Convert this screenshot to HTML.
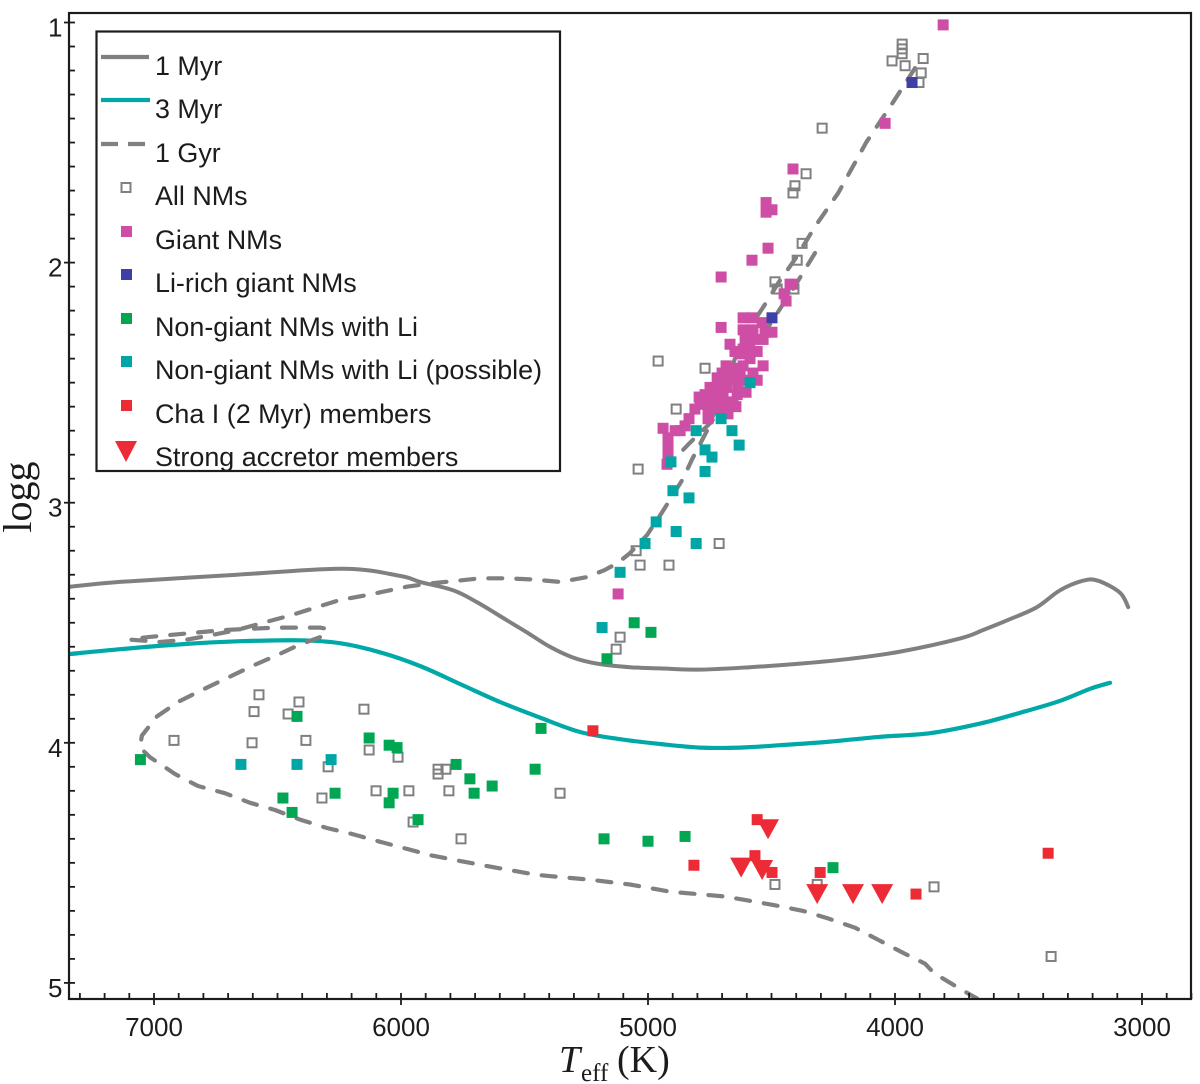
<!DOCTYPE html>
<html>
<head>
<meta charset="utf-8">
<title>logg vs Teff</title>
<style>
html,body{margin:0;padding:0;background:#fff;}
svg{display:block;}
text{font-family:"Liberation Sans",sans-serif;fill:#1c1c1c;}
.serif{font-family:"Liberation Serif",serif;}
.leg{font-size:26.9px;}
</style>
</head>
<body>
<svg id="chart" xmlns="http://www.w3.org/2000/svg" width="1200" height="1084" viewBox="0 0 1200 1084">
  <rect x="0" y="0" width="1200" height="1084" fill="#fff"/>
  <defs><clipPath id="plotClip"><rect x="70" y="14" width="1120" height="984"/></clipPath></defs>
  <g id="series" clip-path="url(#plotClip)"></g>
  <rect x="69" y="13" width="1122" height="986" fill="none" stroke="#1c1c1c" stroke-width="2.2"/>
  <g id="ticks"></g>
  <text class="serif" font-size="40" text-anchor="middle" transform="translate(31,497) rotate(-90)">logg</text>
  <g>
    <text class="serif" font-size="38" font-style="italic" x="559" y="1072">T</text>
    <text class="serif" font-size="25" x="581" y="1081">eff</text>
    <text class="serif" font-size="38" x="617" y="1072">(K)</text>
  </g>
  <g>
    <rect x="96.5" y="31.5" width="463.5" height="439.5" fill="#fff" stroke="#1c1c1c" stroke-width="2.2"/>
    <line x1="101" y1="57" x2="149" y2="57" stroke="#808080" stroke-width="4.2"/>
    <text class="leg" x="155" y="75">1 Myr</text>
    <line x1="101" y1="100" x2="150" y2="100" stroke="#00a9a8" stroke-width="4.2"/>
    <text class="leg" x="155" y="118">3 Myr</text>
    <line x1="101" y1="144" x2="146" y2="144" stroke="#808080" stroke-width="4.2" stroke-dasharray="17,10"/>
    <text class="leg" x="155" y="162">1 Gyr</text>
    <rect x="121.5" y="183" width="9" height="9" fill="#fff" stroke="#808080" stroke-width="2"/>
    <text class="leg" x="155" y="205">All NMs</text>
    <rect x="121" y="226" width="11" height="11" fill="#cd4ea4"/>
    <text class="leg" x="155" y="249">Giant NMs</text>
    <rect x="121" y="269" width="11" height="11" fill="#3f3fa8"/>
    <text class="leg" x="155" y="292">Li-rich giant NMs</text>
    <rect x="121" y="313" width="11" height="11" fill="#00a651"/>
    <text class="leg" x="155" y="336">Non-giant NMs with Li</text>
    <rect x="121" y="356" width="11" height="11" fill="#00a6a6"/>
    <text class="leg" x="155" y="379">Non-giant NMs with Li (possible)</text>
    <rect x="121" y="400" width="11" height="11" fill="#ed2b36"/>
    <text class="leg" x="155" y="423">Cha I (2 Myr) members</text>
    <polygon points="115,441 137,441 126,462" fill="#ed2b36"/>
    <text class="leg" x="155" y="466">Strong accretor members</text>
  </g>
</svg>
<script>
// Axis tick labels
const xTickLabels = [7000, 6000, 5000, 4000, 3000];
const yTickLabels = [1, 2, 3, 4, 5];

// Isochrones: effective temperature (K) and logg
const myr1T = [7340,7138,6664,6235,6004,5923,5789,5692,5571,5490,5397,5303,5206,5073,4951,4789,4587,4384,4182,3979,3736,3643,3534,3425,3332,3239,3178,3089,3056];
const myr1G = [3.35,3.33,3.30,3.275,3.305,3.33,3.365,3.415,3.49,3.54,3.60,3.645,3.67,3.685,3.69,3.695,3.685,3.67,3.65,3.62,3.565,3.53,3.485,3.435,3.365,3.325,3.325,3.375,3.435];
const myr3T = [7340,7138,6895,6652,6409,6247,6085,5923,5761,5599,5437,5275,5113,4951,4789,4627,4465,4263,4060,3858,3656,3494,3331,3210,3129];
const myr3G = [3.63,3.61,3.59,3.577,3.573,3.585,3.623,3.68,3.755,3.83,3.895,3.955,3.985,4.005,4.02,4.02,4.01,3.995,3.975,3.96,3.92,3.875,3.825,3.775,3.75];
const gyr1T = [3919,4000,4117,4230,4324,4401,4473,4514,4619,4688,4761,4822,4858,4943,5004,5073,5121,5174,5247,5356,5465,5571,5680,5789,5870,5976,6138,6247,6340,6449,6559,6664,6761,6866,6976,7097,7028,6927,6822,6713,6611,6502,6389,6328,6300,6328,6409,6502,6603,6704,6806,6903,6988,7049,7057,7016,6915,6822,6713,6611,6510,6409,6300,6198,6093,5984,5874,5773,5668,5559,5449,5344,5235,5073,4911,4688,4494,4372,4275,4162,4069,3967,3878,3846,3809,3736,3668];
const gyr1G = [1.19,1.32,1.50,1.71,1.85,1.98,2.085,2.155,2.32,2.51,2.70,2.82,2.90,3.04,3.135,3.21,3.25,3.28,3.31,3.33,3.32,3.315,3.315,3.327,3.335,3.35,3.385,3.405,3.435,3.47,3.50,3.53,3.55,3.57,3.58,3.57,3.56,3.55,3.54,3.53,3.525,3.52,3.52,3.52,3.525,3.56,3.59,3.635,3.68,3.73,3.78,3.83,3.89,3.97,4.02,4.06,4.13,4.18,4.21,4.25,4.28,4.32,4.355,4.38,4.41,4.44,4.47,4.49,4.51,4.53,4.55,4.56,4.57,4.59,4.62,4.64,4.675,4.70,4.73,4.77,4.82,4.875,4.92,4.955,4.98,5.025,5.065];
const gyrBranchT = [4324,4401,4514,4640,4740,4830,4905];
const gyrBranchG = [1.96,2.09,2.27,2.46,2.66,2.75,2.83];

// Star samples: effective temperature (K) and logg
const allNmT = [3971,3971,3971,4012,3959,3886,3894,3903,4295,4360,4405,4413,4376,4396,4486,4477,4409,4959,4769,4886,5040,5048,4712,5032,4915,5113,5129,6575,6413,6595,6457,6150,6919,6603,6385,6129,6012,6295,6320,6101,5850,5818,5850,5968,5806,5356,5951,5757,4486,4315,3842,3368];
const allNmG = [1.09,1.11,1.13,1.16,1.18,1.15,1.21,1.25,1.44,1.63,1.68,1.71,1.92,1.99,2.08,2.11,2.11,2.41,2.44,2.61,2.86,3.20,3.17,3.26,3.26,3.56,3.61,3.80,3.83,3.87,3.88,3.86,3.99,4.00,3.99,4.03,4.06,4.10,4.23,4.20,4.11,4.11,4.13,4.20,4.20,4.21,4.33,4.40,4.59,4.59,4.60,4.89];
const giantT = [3805,4040,4413,4522,4522,4498,4514,4579,4425,4449,4704,4704,5121,4441,4417,4615,4579,4538,4615,4575,4498,4534,4575,4668,4615,4558,4627,4587,4684,4615,4534,4639,4575,4720,4660,4558,4627,4749,4680,4603,4793,4737,4696,4639,4789,4737,4656,4676,4708,4834,4757,4870,4939,4919,4919,4919,4923,4712,4761,4700,4648,4607,4676,4635,4700,4769,4728,4688,4627,4595,4757,4810,4644,4591,4526,4890,4850];
const giantG = [1.01,1.42,1.61,1.75,1.79,1.78,1.94,1.99,2.09,2.13,2.06,2.27,3.38,2.16,2.09,2.23,2.23,2.25,2.28,2.28,2.29,2.32,2.32,2.34,2.36,2.37,2.38,2.40,2.43,2.43,2.43,2.44,2.46,2.48,2.46,2.49,2.49,2.52,2.52,2.54,2.56,2.55,2.56,2.55,2.59,2.59,2.58,2.63,2.61,2.65,2.65,2.70,2.69,2.73,2.77,2.81,2.84,2.58,2.58,2.46,2.37,2.32,2.48,2.51,2.51,2.55,2.52,2.59,2.46,2.49,2.61,2.61,2.60,2.36,2.29,2.70,2.68];
const liRichT = [3931,4498];
const liRichG = [1.25,2.23];
const nonGiantT = [7055,6421,6129,6048,6016,6478,6267,6441,6032,6048,5777,5721,5704,5631,5457,5433,5931,5178,5056,4988,5166,5000,4850,4251];
const nonGiantG = [4.07,3.89,3.98,4.01,4.02,4.23,4.21,4.29,4.21,4.25,4.09,4.15,4.21,4.18,4.11,3.94,4.32,4.40,3.50,3.54,3.65,4.41,4.39,4.52];
const possibleT = [6648,6421,6283,4587,4704,4805,4660,4631,4769,4741,4907,4769,4899,4834,4967,4886,5012,4805,5113,5186];
const possibleG = [4.09,4.09,4.07,2.50,2.65,2.70,2.70,2.76,2.78,2.81,2.83,2.87,2.95,2.98,3.08,3.12,3.17,3.17,3.29,3.52];
const chaT = [5223,4814,4558,4567,4498,4303,3915,3380];
const chaG = [3.95,4.51,4.32,4.47,4.54,4.54,4.63,4.46];
const accretorT = [4514,4623,4538,4315,4170,4052];
const accretorG = [4.36,4.52,4.53,4.63,4.63,4.63];

const NS = 'http://www.w3.org/2000/svg';
function xScale(t){ return 154 + (7000 - t) * 0.247; }
function yScale(g){ return 22.5 + (g - 1) * 240.1; }
const seriesLayer = document.getElementById('series');
const tickLayer = document.getElementById('ticks');

function make(tag, attrs, parent){
  const el = document.createElementNS(NS, tag);
  for (const k in attrs) el.setAttribute(k, attrs[k]);
  parent.appendChild(el);
  return el;
}

function smoothPath(ts, gs){
  const p = ts.map((t, i) => [xScale(t), yScale(gs[i])]);
  let d = 'M' + p[0][0].toFixed(1) + ' ' + p[0][1].toFixed(1);
  for (let i = 0; i < p.length - 1; i++) {
    const a = p[Math.max(i - 1, 0)], b = p[i], c = p[i + 1], e = p[Math.min(i + 2, p.length - 1)];
    const c1x = b[0] + (c[0] - a[0]) / 6, c1y = b[1] + (c[1] - a[1]) / 6;
    const c2x = c[0] - (e[0] - b[0]) / 6, c2y = c[1] - (e[1] - b[1]) / 6;
    d += 'C' + c1x.toFixed(1) + ' ' + c1y.toFixed(1) + ' ' + c2x.toFixed(1) + ' ' + c2y.toFixed(1) + ' ' + c[0].toFixed(1) + ' ' + c[1].toFixed(1);
  }
  return d;
}

function drawSmooth(ts, gs, color, width, name){
  const el = make('path', {d: smoothPath(ts, gs), fill: 'none', stroke: color, 'stroke-width': width, 'stroke-linejoin': 'round', 'stroke-linecap': 'round'}, seriesLayer);
  
  
}

function drawDashed(ts, gs, color, width, dash, name){
  const pts = ts.map((t, i) => xScale(t).toFixed(1) + ',' + yScale(gs[i]).toFixed(1)).join(' ');
  const el = make('polyline', {points: pts, fill: 'none', stroke: color, 'stroke-width': width, 'stroke-linejoin': 'round', 'stroke-linecap': 'round', 'stroke-dasharray': dash}, seriesLayer);
  
  
}

function drawSquares(ts, gs, color, name){
  ts.forEach((t, i) => {
    const el = make('rect', {x: xScale(t) - 5.5, y: yScale(gs[i]) - 5.5, width: 11, height: 11, fill: color}, seriesLayer);
    
    
  });
}

function drawOpen(ts, gs, color, name){
  ts.forEach((t, i) => {
    const el = make('rect', {x: xScale(t) - 4.5, y: yScale(gs[i]) - 4.5, width: 9, height: 9, fill: 'none', stroke: color, 'stroke-width': 2}, seriesLayer);
    
    
  });
}

function drawTriangles(ts, gs, color, name){
  ts.forEach((t, i) => {
    const x = xScale(t), y = yScale(gs[i]);
    const pts = (x - 11) + ',' + (y - 10) + ' ' + (x + 11) + ',' + (y - 10) + ' ' + x + ',' + (y + 10);
    const el = make('polygon', {points: pts, fill: color}, seriesLayer);
    
    
  });
}

drawSmooth(myr1T, myr1G, '#808080', 4, 'isochrone-1-myr');
drawSmooth(myr3T, myr3G, '#00a9a8', 4.2, 'isochrone-3-myr');
drawDashed(gyr1T, gyr1G, '#808080', 4.2, '14,14', 'isochrone-1-gyr');
drawDashed(gyrBranchT, gyrBranchG, '#808080', 4.2, '14,14', 'isochrone-1-gyr-branch');
drawOpen(allNmT, allNmG, '#808080', 'point-all-nm');
drawSquares(giantT, giantG, '#cd4ea4', 'point-giant-nm');
drawSquares(liRichT, liRichG, '#3f3fa8', 'point-li-rich-giant');
drawSquares(nonGiantT, nonGiantG, '#00a651', 'point-non-giant-li');
drawSquares(possibleT, possibleG, '#00a6a6', 'point-non-giant-li-possible');
drawSquares(chaT, chaG, '#ed2b36', 'point-cha-i-member');
drawTriangles(accretorT, accretorG, '#ed2b36', 'point-strong-accretor');

// X ticks: minor every 100 K, major at labelled values
for (let t = 2800; t <= 7300; t += 100) {
  const x = xScale(t);
  const major = t % 1000 === 0;
  const el = make('line', {x1: x, x2: x, y1: 993, y2: major ? 1005 : 999, stroke: '#1c1c1c', 'stroke-width': 1.8}, tickLayer);
  
  
}
xTickLabels.forEach(v => {
  const el = make('text', {x: xScale(v), y: 1036, 'text-anchor': 'middle', 'font-size': 26}, tickLayer);
  el.textContent = String(v);
  
  
});

// Y ticks: minor every 0.1 dex, major at labelled values
for (let k = 10; k <= 50; k++) {
  const y = yScale(k / 10);
  const major = k % 10 === 0;
  const el = make('line', {x1: major ? 64 : 69, x2: 75, y1: y, y2: y, stroke: '#1c1c1c', 'stroke-width': 1.8}, tickLayer);
  
  
}
yTickLabels.forEach(v => {
  const el = make('text', {x: 62.5, y: yScale(v) + 14, 'text-anchor': 'end', 'font-size': 26}, tickLayer);
  el.textContent = String(v);
  
  
});
</script>
</body>
</html>
